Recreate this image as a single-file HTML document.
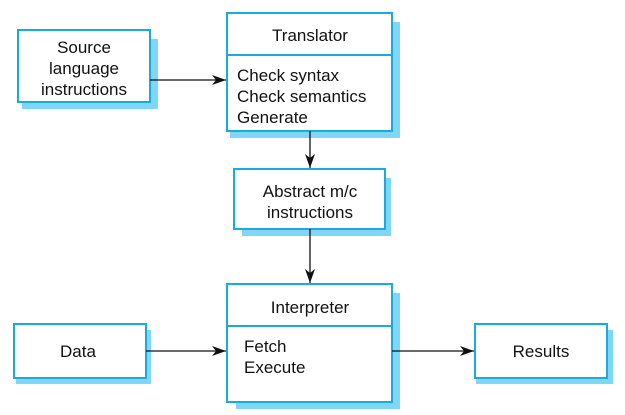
<!DOCTYPE html>
<html><head><meta charset="utf-8"><style>
html,body{margin:0;padding:0;background:#fff;overflow:hidden;}
svg{display:block;}
text{font-family:"Liberation Sans",sans-serif;font-size:17px;fill:#111;}
</style></head><body>
<svg width="625" height="415" viewBox="0 0 625 415" xmlns="http://www.w3.org/2000/svg">
<defs><marker id="a" markerWidth="14" markerHeight="10" refX="14" refY="5" orient="auto" markerUnits="userSpaceOnUse"><path d="M0,0 L14,5 L0,10 L4,5 Z" fill="#111"/></marker></defs>
<g fill="#80d6f5">
<rect x="22" y="39" width="136" height="70"/>
<rect x="230" y="22" width="170" height="116"/>
<rect x="242" y="178" width="149" height="58"/>
<rect x="236" y="293" width="164" height="116"/>
<rect x="16" y="330" width="135" height="54"/>
<rect x="476" y="330" width="137" height="54"/>
</g>
<g fill="#fff" stroke="#1aa9e1" stroke-width="2">
<rect x="18" y="30" width="132" height="72"/>
<rect x="227" y="13" width="165" height="118"/>
<rect x="234" y="169" width="151" height="60"/>
<rect x="227" y="284" width="165" height="118"/>
<rect x="14" y="324" width="132" height="54"/>
<rect x="475" y="324" width="132" height="54"/>
</g>
<g stroke="#1aa9e1" stroke-width="2">
<line x1="227" y1="55" x2="392" y2="55"/>
<line x1="227" y1="326" x2="392" y2="326"/>
</g>
<g stroke="#111" stroke-width="1.3" fill="none">
<line x1="150" y1="80" x2="226" y2="80" marker-end="url(#a)"/>
<line x1="310" y1="131" x2="310" y2="168" marker-end="url(#a)"/>
<line x1="310" y1="229" x2="310" y2="283" marker-end="url(#a)"/>
<line x1="146" y1="351" x2="226" y2="351" marker-end="url(#a)"/>
<line x1="392" y1="351" x2="474" y2="351" marker-end="url(#a)"/>
</g>
<g text-anchor="middle">
<text x="84" y="53">Source</text>
<text x="84" y="74">language</text>
<text x="84" y="95">instructions</text>
<text x="310" y="41">Translator</text>
<text x="310" y="197">Abstract m/c</text>
<text x="310" y="218">instructions</text>
<text x="310" y="313">Interpreter</text>
<text x="78" y="357">Data</text>
<text x="541" y="357">Results</text>
</g>
<text x="237" y="81">Check syntax</text>
<text x="237" y="102">Check semantics</text>
<text x="237" y="123">Generate</text>
<text x="244" y="352">Fetch</text>
<text x="244" y="373">Execute</text>
</svg>
</body></html>
